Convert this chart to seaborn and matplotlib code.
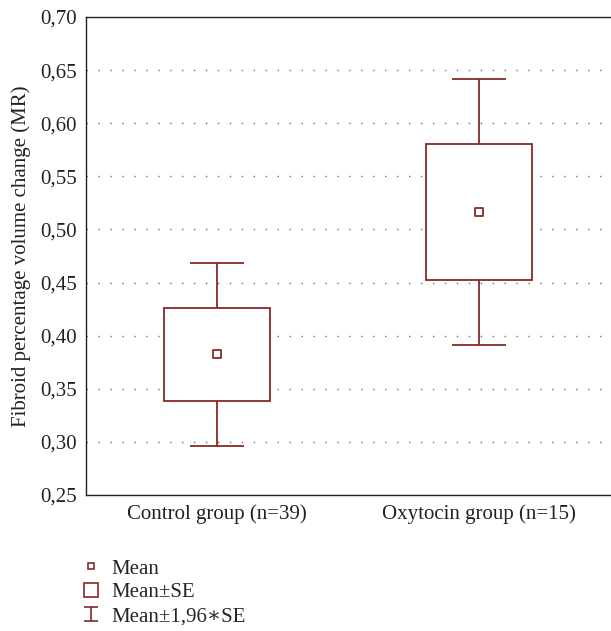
import matplotlib
matplotlib.use("Agg")
import matplotlib.pyplot as plt
import seaborn as sns
import pandas as pd
import numpy as np
from matplotlib.lines import Line2D
from matplotlib.path import Path

# ---- data ----
groups = ["Control group (n=39)", "Oxytocin group (n=15)"]
means = [0.3827, 0.5165]
se_low = [0.3384, 0.4525]
se_high = [0.4260, 0.5805]
ci_low = [0.2963, 0.3915]
ci_high = [0.4685, 0.6415]
yticks = [0.25, 0.30, 0.35, 0.40, 0.45, 0.50, 0.55, 0.60, 0.65, 0.70]
ytick_labels = ["0,25", "0,30", "0,35", "0,40", "0,45", "0,50", "0,55", "0,60", "0,65", "0,70"]
legend_labels = ["Mean", "Mean±SE", "Mean±1,96∗SE"]

RED = "#872828"
FS = 15

sns.set_style("white")
plt.rcParams["font.family"] = ["Liberation Serif", "DejaVu Serif"]

fig = plt.figure(figsize=(6.11, 6.31), dpi=100)
ax = fig.add_axes([86 / 611, 1 - 495 / 631, 1 - 86 / 611 - 0.001, (495 - 17) / 631])

df = pd.DataFrame({"group": groups, "mean": means})
x = np.arange(len(groups))

# whiskers (mean ± 1.96 SE)
ax.vlines(x, ci_low, ci_high, color=RED, lw=1.3, zorder=2)
ax.hlines(ci_low, x - 0.103, x + 0.103, color=RED, lw=1.3, zorder=2)
ax.hlines(ci_high, x - 0.103, x + 0.103, color=RED, lw=1.3, zorder=2)

# boxes (mean ± SE)
heights = [h - l for h, l in zip(se_high, se_low)]
ax.bar(x, heights, bottom=se_low, width=0.404, facecolor="white",
       edgecolor=RED, linewidth=1.3, zorder=3)

# mean markers
sns.scatterplot(data=df, x="group", y="mean", marker="s", s=28,
                facecolor="white", edgecolor=RED, linewidth=1.3,
                ax=ax, zorder=4, legend=False)

ax.set_xlim(-0.5, 1.5)
ax.set_ylim(0.25, 0.70)
ax.set_yticks(yticks)
ax.set_yticklabels(ytick_labels)
ax.set_xticks(x)
ax.set_xticklabels(groups)
ax.tick_params(axis="both", length=0, labelsize=FS, colors="#222222")
ax.tick_params(axis="y", pad=6.5)
ax.tick_params(axis="x", pad=6.5)
ax.set_xlabel("")
ax.set_ylabel("Fibroid percentage volume change (MR)", fontsize=FS, color="#222222")
ax.yaxis.set_label_coords(-0.104, 0.5)

for yv in yticks[1:-1]:
    ax.axhline(yv, color="#6f6f6f", lw=1.0, ls=(0, (1, 7.6)), zorder=1)

for side in ["left", "top", "bottom"]:
    ax.spines[side].set_visible(True)
    ax.spines[side].set_color("#222222")
    ax.spines[side].set_linewidth(1.0)
ax.spines["right"].set_visible(False)

# legend
ibar = Path([(-1, 1), (1, 1), (0, 1), (0, -1), (-1, -1), (1, -1)],
            [Path.MOVETO, Path.LINETO, Path.MOVETO, Path.LINETO, Path.MOVETO, Path.LINETO])
handles = [
    Line2D([], [], ls="none", marker="s", markersize=4.5, markerfacecolor="white",
           markeredgecolor=RED, markeredgewidth=1.2),
    Line2D([], [], ls="none", marker="s", markersize=10.5, markerfacecolor="white",
           markeredgecolor=RED, markeredgewidth=1.2),
    Line2D([], [], ls="none", marker=ibar, markersize=10, markerfacecolor="none",
           markeredgecolor=RED, markeredgewidth=1.2),
]
fig.legend(handles, legend_labels, loc="upper left", bbox_to_anchor=(81 / 611, 1 - 559 / 631),
           frameon=False, fontsize=FS, handlelength=1.0, handletextpad=0.45,
           labelspacing=0.2, borderaxespad=0, borderpad=0)

fig.savefig("out.png", dpi=100)
